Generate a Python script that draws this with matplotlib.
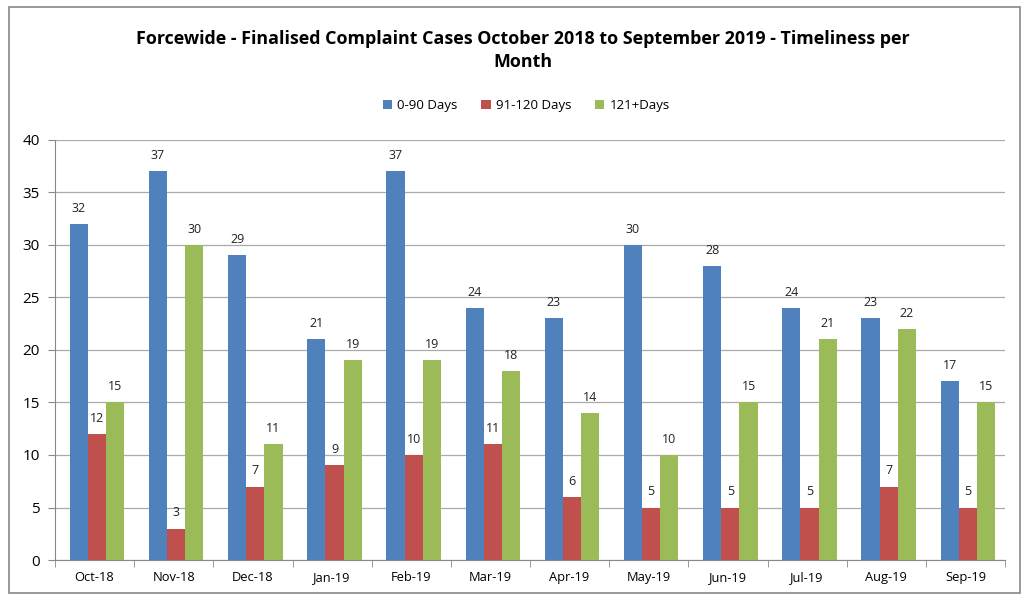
import numpy as np
import matplotlib
matplotlib.use("Agg")
import matplotlib.pyplot as plt
from matplotlib.patches import Rectangle

months = ["Oct-18", "Nov-18", "Dec-18", "Jan-19", "Feb-19", "Mar-19",
          "Apr-19", "May-19", "Jun-19", "Jul-19", "Aug-19", "Sep-19"]
days_0_90 = [32, 37, 29, 21, 37, 24, 23, 30, 28, 24, 23, 17]
days_91_120 = [12, 3, 7, 9, 10, 11, 6, 5, 5, 5, 7, 5]
days_121_plus = [15, 30, 11, 19, 19, 18, 14, 10, 15, 21, 22, 15]

series = [("0-90 Days", days_0_90, "#4F81BD"),
          ("91-120 Days", days_91_120, "#C0504D"),
          ("121+Days", days_121_plus, "#9BBB59")]

plt.rcParams['font.family'] = ['Open Sans', 'DejaVu Sans']

fig = plt.figure(figsize=(10.26, 5.95), dpi=100)
ax = fig.add_axes([0.0536, 0.0588, 0.926, 0.706])

# outer chart border
fig.patches.append(Rectangle((0.009, 0.004), 0.985, 0.985, transform=fig.transFigure,
                             fill=False, edgecolor="#888888", linewidth=1.2))

x = np.arange(len(months))
w = 0.23
for i, (label, vals, color) in enumerate(series):
    pos = x + (i - 1) * w + 0.03
    ax.bar(pos, vals, w, color=color, label=label, zorder=3)
    for xp, v in zip(pos, vals):
        ax.text(xp, v + 0.9, str(v), ha="center", va="bottom", fontsize=9, color="#222222")

ax.set_xlim(-0.5, len(months) - 0.5)
ax.set_ylim(0, 40)
ax.set_yticks(range(0, 41, 5))
ax.set_xticks(x)
ax.set_xticklabels(months, fontsize=9.3)
ax.set_xticks(np.arange(-0.5, len(months), 1), minor=True)
ax.tick_params(axis="x", which="major", length=0, pad=8)
ax.tick_params(axis="x", which="minor", length=5, color="#888888")
ax.tick_params(axis="y", labelsize=11, length=5, color="#888888", pad=6)
ax.grid(axis="y", color="#AAAAAA", linewidth=0.9, zorder=0)
for s in ["top", "right"]:
    ax.spines[s].set_visible(False)
ax.spines["left"].set_color("#888888")
ax.spines["bottom"].set_color("#888888")

fig.text(0.51, 0.915, "Forcewide - Finalised Complaint Cases October 2018 to September 2019 - Timeliness per\nMonth",
         ha="center", va="center", fontsize=12.9, fontweight="bold", linespacing=1.35)
fig.legend(loc="center", bbox_to_anchor=(0.513, 0.823), ncol=3, frameon=False,
           fontsize=9.5, handlelength=0.7, handleheight=0.7, columnspacing=1.8, handletextpad=0.4)

fig.savefig("out.png", dpi=100)
